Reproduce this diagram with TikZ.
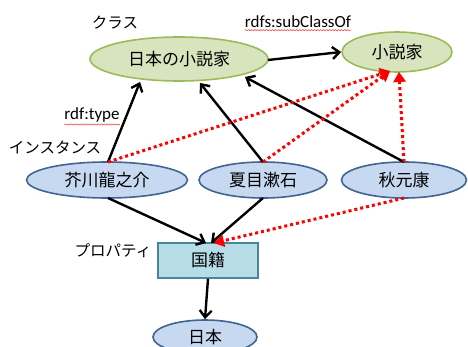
\documentclass[tikz,border=0pt]{standalone}
\usepackage{fontspec}
\setmainfont{Carlito}
\newfontfamily\jp{Noto Sans CJK JP}
\usetikzlibrary{arrows.meta,decorations.pathmorphing,shapes.geometric}
\definecolor{gfill}{RGB}{215,228,189}
\definecolor{gline}{RGB}{155,187,89}
\definecolor{bfill}{RGB}{198,217,241}
\definecolor{bline}{RGB}{65,100,145}
\definecolor{tfill}{RGB}{183,221,232}
\definecolor{tline}{RGB}{70,135,155}
\definecolor{rdot}{RGB}{255,0,0}
\tikzset{
  cls/.style={ellipse, draw=gline, fill=gfill, line width=1.6pt, inner sep=0pt, font=\jp\fontsize{17}{19}\selectfont},
  inst/.style={ellipse, draw=bline, fill=bfill, line width=1.6pt, inner sep=0pt, font=\jp\fontsize{17}{19}\selectfont},
  prop/.style={rectangle, draw=tline, fill=tfill, line width=1.6pt, inner sep=0pt, font=\jp\fontsize{17}{19}\selectfont},
  lbl/.style={font=\jp\fontsize{15.5}{17}\selectfont, inner sep=0pt},
  elbl/.style={font=\fontsize{17}{19}\selectfont, inner sep=0pt},
  arr/.style={line width=2.4pt, -{Straight Barb[length=7pt,width=12pt,line width=2.4pt]}},
  rarr/.style={rdot, line width=3pt, dash pattern=on 3pt off 3pt, -{Triangle[length=10pt,width=13pt,line width=0pt,fill=rdot]}},
  squig/.style={red!70, line width=0.6pt, decorate, decoration={snake, amplitude=0.6pt, segment length=3pt}},
}
\begin{document}
\begin{tikzpicture}[x=1pt,y=-1pt]
\useasboundingbox (0,0) rectangle (468,347);
\node[cls, minimum width=178pt, minimum height=44pt] (jn) at (179,59) {日本の小説家};
\node[cls, minimum width=110pt, minimum height=40pt] (sk) at (397,52) {小説家};
\node[inst, minimum width=161pt, minimum height=36pt] (ak) at (107,180) {芥川龍之介};
\node[inst, minimum width=128pt, minimum height=36pt] (ns) at (263,180) {夏目漱石};
\node[inst, minimum width=125pt, minimum height=36pt] (ay) at (404,180) {秋元康};
\node[prop, minimum width=100pt, minimum height=35pt] (kk) at (208,260.5) {国籍};
\node[inst, minimum width=104pt, minimum height=34pt] (nh) at (205,337) {日本};
\node[lbl] (lcls) at (115,23) {クラス};
\node[elbl] (lsub) at (298,22) {rdfs:subClassOf};
\draw[squig] ([yshift=-2pt]lsub.south west) -- ([yshift=-2pt]lsub.south east);
\node[elbl] (ltype) at (92,115) {rdf:type};
\draw[squig] ([yshift=-2pt]ltype.south west) -- ([yshift=-2pt]ltype.south east);
\node[lbl] (linst) at (55,148) {インスタンス};
\node[lbl] (lprop) at (113,251) {プロパティ};
% coordinates on borders
\coordinate (akt) at (108,162);
\coordinate (nst) at (263,162);
\coordinate (ayt) at (404,162);
\coordinate (akb) at (108,198);
\coordinate (nsb) at (263,198);
\coordinate (ayb) at (404,198);
\coordinate (jnr) at (268,60);
\coordinate (jn1) at (140,82);
\coordinate (jn2) at (200,83);
\coordinate (jn3) at (245,77);
\coordinate (kk1) at (206,243);
\coordinate (kk2) at (211,243);
\coordinate (kk3) at (214,243);
\coordinate (sk1) at (390,71);
\coordinate (sk2) at (399,72);
% black arrows
\draw[arr] (jnr) -- (sk.west);
\draw[arr] (akt) -- (jn1);
\draw[arr] (nst) -- (jn2);
\draw[arr] (ayt) -- (jn3);
\draw[arr] (akb) -- (kk1);
\draw[arr] (nsb) -- (kk2);
\draw[arr] (kk.south) -- (nh.north);
% red dotted
\draw[rarr] (akt) -- (sk1);
\draw[rarr] (nst) -- (sk1);
\draw[rarr] (ayt) -- (sk2);
\draw[rarr] (ayb) -- (kk3);
\end{tikzpicture}
\end{document}
